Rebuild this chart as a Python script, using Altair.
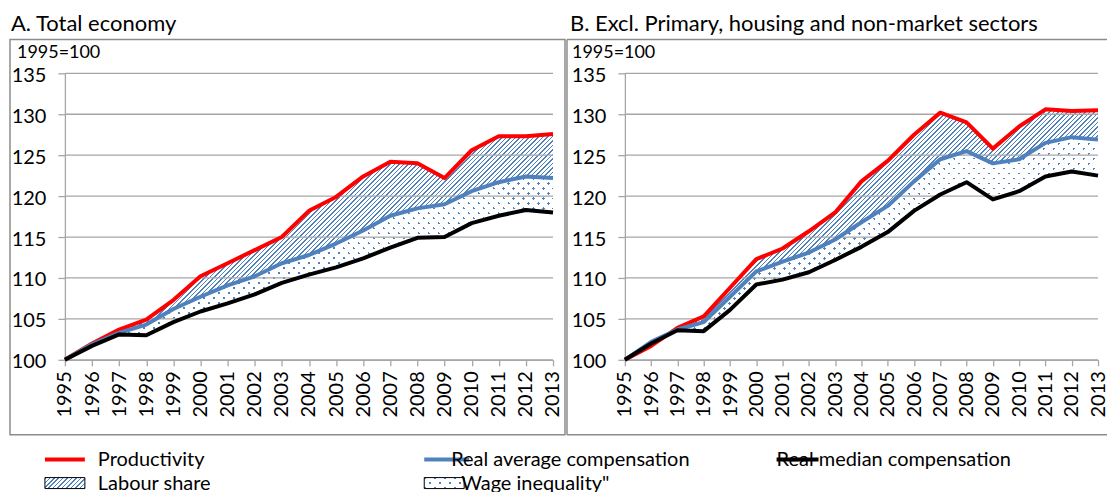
import altair as alt
import pandas as pd

# ---------------- data ----------------
years = list(range(1995, 2014))

prod_a = [100, 102.0, 103.7, 104.9, 107.3, 110.2, 111.8, 113.4, 115.0, 118.2, 119.9, 122.4, 124.2, 124.0, 122.2, 125.6, 127.3, 127.3, 127.6]
avg_a = [100, 101.9, 103.3, 104.3, 106.2, 107.7, 109.1, 110.2, 111.8, 112.8, 114.2, 115.8, 117.6, 118.5, 119.0, 120.6, 121.7, 122.4, 122.2]
med_a = [100, 101.7, 103.1, 103.0, 104.6, 105.9, 106.9, 108.0, 109.4, 110.4, 111.3, 112.4, 113.7, 114.9, 115.0, 116.7, 117.6, 118.3, 118.0]

prod_b = [100, 101.7, 103.9, 105.3, 108.8, 112.3, 113.6, 115.7, 118.0, 121.8, 124.3, 127.5, 130.2, 129.0, 125.8, 128.5, 130.6, 130.4, 130.5]
avg_b = [100, 102.2, 103.7, 104.6, 107.7, 110.8, 112.0, 113.1, 114.7, 116.8, 118.8, 121.8, 124.5, 125.5, 124.0, 124.5, 126.5, 127.2, 126.9]
med_b = [100, 102.0, 103.6, 103.5, 106.1, 109.2, 109.8, 110.7, 112.2, 113.8, 115.6, 118.2, 120.2, 121.7, 119.6, 120.6, 122.4, 123.0, 122.5]

y_ticks = [100, 105, 110, 115, 120, 125, 130, 135]
panel_titles = ["A. Total economy", "B. Excl. Primary, housing and non-market sectors"]
unit_label = "1995=100"
legend_labels = ["Productivity", "Real average compensation", "Real median compensation",
                 "Labour share", "Wage inequality\""]

# ---------------- styles ----------------
FONT = "Lato"
RED = "#FF0000"
BLUE = "#4F81BD"
BLACK = "#000000"
GRID = "#A6A6A6"
FRAME = "#8C8C8C"
CLEAR = "rgba(255,255,255,0)"
WHITE = "#FFFFFF"
PLOT_H = 287
Y_MIN, Y_MAX = 100, 135
PPU = PLOT_H / (Y_MAX - Y_MIN)
TICK_FS = 20

HATCH_PERIOD, HATCH_W = 4.5, 1.5
DOT_PERIOD, DOT_W = 10.0, 2.6


def stripes(total, period, width, on, off):
    stops = []
    pos = 0.0
    while pos < total:
        s = round(pos / total, 6)
        e = round(min(pos + width, total) / total, 6)
        n = round(min(pos + period, total) / total, 6)
        stops += [alt.GradientStop(offset=s, color=on), alt.GradientStop(offset=e, color=on),
                  alt.GradientStop(offset=e, color=off), alt.GradientStop(offset=n, color=off)]
        pos += period
    return stops


def diag_up(W, H, period, width, on, off):
    r = H / W
    a = (1 + r) / (1 + r * r)
    return alt.Gradient(gradient="linear", x1=0, y1=0, x2=a, y2=a * r,
                        stops=stripes(W + H, period, width, on, off))


def diag_down(W, H, period, width, on, off):
    r = H / W
    a = (1 + r) / (1 + r * r)
    return alt.Gradient(gradient="linear", x1=0, y1=1, x2=a, y2=1 - a * r,
                        stops=stripes(W + H, period, width, on, off))


def one():
    return alt.Chart(pd.DataFrame({"k": [0]}))


def text_at(s, x, y, size):
    return one().mark_text(text=s, align="left", baseline="alphabetic", font=FONT,
                           fontSize=size, color=BLACK).encode(x=alt.value(x), y=alt.value(y))


def seg(x1, x2, y1, y2, color, width):
    return one().mark_rule(color=color, strokeWidth=width).encode(
        x=alt.value(x1), x2=alt.value(x2), y=alt.value(y1), y2=alt.value(y2))


def panel(prod, avg, med, W, title, bound_left, frame_left, frame_right, closed, title_x, unit_x):
    df = pd.DataFrame({"year": years, "prod": prod, "avg": avg, "med": med})
    xs = alt.Scale(domain=[years[0], years[-1]], nice=False, zero=False)
    ys = alt.Scale(domain=[Y_MIN, Y_MAX], nice=False, zero=False)
    xaxis = alt.Axis(values=years, format="d", labelAngle=270, labelAlign="right",
                     labelBaseline="middle", labelFont=FONT, labelFontSize=TICK_FS, labelColor=BLACK,
                     labelPadding=5, tickColor=GRID, tickSize=6, tickWidth=1.3,
                     domainColor=GRID, domainWidth=1.3, grid=False, title=None,
                     labelOverlap=False, labelFlush=False)
    yaxis = alt.Axis(values=y_ticks, labelFont=FONT, labelFontSize=TICK_FS, labelColor=BLACK,
                     labelPadding=12, labelOffset=2, tickColor=GRID, tickSize=7, tickWidth=1.3,
                     domainColor=GRID, domainWidth=1.3, grid=False, title=None,
                     labelFlush=False)
    X = alt.X("year:Q", scale=xs, axis=xaxis)
    base = alt.Chart(df)

    hi_h = (max(max(prod), max(avg)) - min(min(prod), min(avg))) * PPU
    hi_d = (max(max(avg), max(med)) - min(min(avg), min(med))) * PPU

    bound = one().mark_rect(fillOpacity=0, strokeOpacity=0).encode(
        x=alt.value(bound_left), x2=alt.value(frame_right),
        y=alt.value(-65), y2=alt.value(362))
    if closed:
        frame = [one().mark_rect(fillOpacity=0, stroke=FRAME, strokeWidth=1.5).encode(
            x=alt.value(frame_left), x2=alt.value(frame_right),
            y=alt.value(-34), y2=alt.value(362))]
    else:
        frame = [seg(frame_left, frame_right, -34, -34, FRAME, 1.5),
                 seg(frame_left, frame_left, -34, 362, FRAME, 1.5),
                 seg(frame_left, frame_right, 362, 362, FRAME, 1.5)]

    hatch = base.mark_area(opacity=1, fill=diag_up(W, hi_h, HATCH_PERIOD, HATCH_W, BLUE, CLEAR)).encode(
        x=X, y=alt.Y("prod:Q", scale=ys, axis=yaxis), y2="avg:Q")
    dots = base.mark_area(opacity=1, fill=diag_up(W, hi_d, DOT_PERIOD, DOT_W, BLUE, CLEAR)).encode(
        x=X, y=alt.Y("avg:Q", scale=ys, axis=yaxis), y2="med:Q")
    mask = base.mark_area(opacity=1, fill=diag_down(W, hi_d, DOT_PERIOD, DOT_W, CLEAR, WHITE)).encode(
        x=X, y=alt.Y("avg:Q", scale=ys, axis=yaxis), y2="med:Q")

    grid = alt.Chart(pd.DataFrame({"v": y_ticks})).mark_rule(color=GRID, strokeWidth=1.3).encode(
        y=alt.Y("v:Q", scale=ys, axis=yaxis))

    def line(field, color):
        return base.mark_line(color=color, strokeWidth=4, strokeJoin="round").encode(
            x=X, y=alt.Y(field + ":Q", scale=ys, axis=yaxis))

    t1 = text_at(title, title_x, -42, 22)
    t2 = text_at(unit_label, unit_x, -15, 18)

    return alt.layer(bound, *frame, hatch, dots, mask, grid,
                     line("prod", RED), line("avg", BLUE), line("med", BLACK),
                     t1, t2).properties(width=W, height=PLOT_H)


pa = panel(prod_a, avg_a, med_a, 489, panel_titles[0], -57, -55, 501, True, -54, -48)
pb = panel(prod_b, avg_b, med_b, 474, panel_titles[1], -59, -58, 483, False, -55, -53)

# ---------------- legend ----------------
LEG_W, LEG_H = 900, 55
leg_bound = one().mark_rect(fillOpacity=0, strokeOpacity=0).encode(
    x=alt.value(0), x2=alt.value(LEG_W), y=alt.value(0), y2=alt.value(LEG_H))


def leg_line(x1, x2, y, color):
    return one().mark_rule(color=color, strokeWidth=4).encode(
        x=alt.value(x1), x2=alt.value(x2), y=alt.value(y))


def leg_text(s, x, y):
    return one().mark_text(text=s, align="left", baseline="middle", font=FONT,
                           fontSize=20, color=BLACK).encode(x=alt.value(x), y=alt.value(y))


def leg_box(x1, x2, y1, y2, fill):
    return one().mark_rect(fill=fill, opacity=1).encode(
        x=alt.value(x1), x2=alt.value(x2), y=alt.value(y1), y2=alt.value(y2))


def leg_border(x1, x2, y1, y2):
    return one().mark_rect(fillOpacity=0, stroke=BLACK, strokeWidth=1).encode(
        x=alt.value(x1), x2=alt.value(x2), y=alt.value(y1), y2=alt.value(y2))


bw, bh = 40, 11
legend = alt.layer(
    leg_bound,
    leg_line(-20, 20, 24, RED), leg_text(legend_labels[0], 33, 24),
    leg_line(360, 405, 24, BLUE), leg_text(legend_labels[1], 387, 24),
    leg_line(713, 755, 24, BLACK), leg_text(legend_labels[2], 713, 24),
    leg_box(-20, -20 + bw, 42, 42 + bh, diag_up(bw, bh, HATCH_PERIOD, HATCH_W, BLUE, CLEAR)),
    leg_border(-20, -20 + bw, 42, 42 + bh),
    leg_text(legend_labels[3], 33, 48),
    leg_box(360, 360 + bw, 42, 42 + bh, diag_up(bw, bh, DOT_PERIOD, DOT_W, BLUE, CLEAR)),
    leg_box(360, 360 + bw, 42, 42 + bh, diag_down(bw, bh, DOT_PERIOD, DOT_W, CLEAR, WHITE)),
    leg_border(360, 360 + bw, 42, 42 + bh),
    leg_text(legend_labels[4], 397, 48),
).properties(width=LEG_W, height=LEG_H)

chart = alt.vconcat(
    alt.hconcat(pa, pb, spacing=0),
    legend,
    spacing=0,
).properties(padding=0).configure(font=FONT).configure_view(stroke="transparent", strokeWidth=0)

chart.save("out.html", embed_options={"renderer": "svg", "actions": False})
